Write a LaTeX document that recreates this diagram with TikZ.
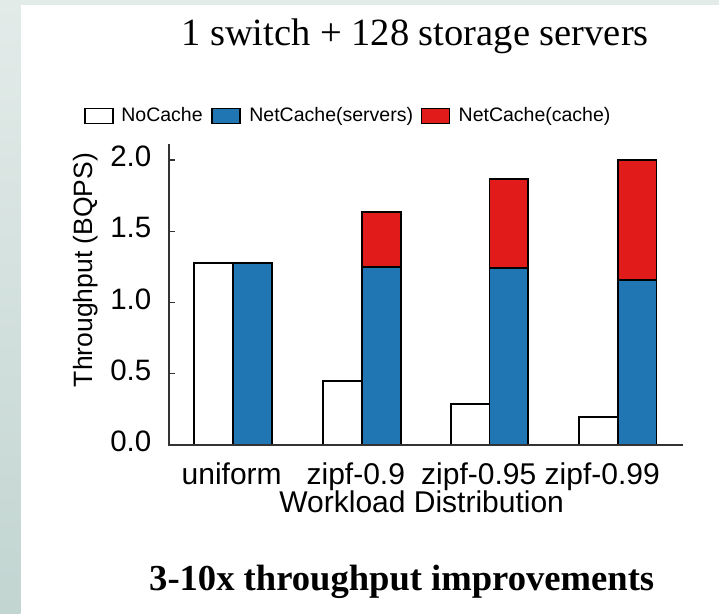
\documentclass[tikz,border=0pt]{standalone}
\usepackage{fontspec}
\setmainfont{Liberation Serif}
\newfontfamily\chartfont{Liberation Sans}
\definecolor{ncblue}{RGB}{31,118,178}
\definecolor{ncred}{RGB}{224,27,26}
\definecolor{slidegray}{RGB}{227,235,233}
\definecolor{slidegraydark}{RGB}{194,213,209}
\definecolor{axisgray}{RGB}{51,51,51}
\begin{document}
\begin{tikzpicture}[x=1pt,y=-1pt,
  barbox/.style={draw=black,line width=1.8pt},
  legbox/.style={draw=black,line width=1.6pt,minimum width=28pt,minimum height=15pt,inner sep=0pt},
  legtext/.style={font=\chartfont\fontsize{19.5}{23}\selectfont,inner sep=0pt,anchor=base west},
  ticklab/.style={font=\chartfont\fontsize{29.5}{34}\selectfont,inner sep=0pt,anchor=base east},
  catlab/.style={font=\chartfont\fontsize{30}{36}\selectfont,inner sep=0pt,anchor=base},
  axisline/.style={draw=axisgray,line width=1.3pt}]
\useasboundingbox (0,0) rectangle (719,613);
\fill[white] (0,0) rectangle (719,613);
% slide edge
\shade[top color=slidegray,bottom color=slidegraydark] (0,0) rectangle (20.7,613);
\fill[slidegray] (0,0) rectangle (719,4.7);
% title
\node[font=\fontsize{38.5}{44}\selectfont,inner sep=0pt,anchor=base] (title) at (415,45) {1 switch + 128 storage servers};
% legend
\node[legbox,fill=white] (lb1) at (99,115.8) {};
\node[legtext] (lt1) at (121.2,121.7) {NoCache};
\node[legbox,fill=ncblue] (lb2) at (225.8,115.8) {};
\node[legtext] (lt2) at (249.2,121.7) {NetCache(servers)};
\node[legbox,fill=ncred] (lb3) at (435.3,115.8) {};
\node[legtext] (lt3) at (458.5,121.7) {NetCache(cache)};
% bars
\foreach \x/\w/\b/\r in {194.3/1.28/1.28/1.28, 323.3/0.451/1.247/1.637, 450.7/0.286/1.24/1.864, 579/0.199/1.158/2.0}{
  \pgfmathsetmacro{\xa}{\x+38.7}
  \pgfmathsetmacro{\xb}{\x+77.4}
  \pgfmathsetmacro{\yw}{445-142.5*\w}
  \pgfmathsetmacro{\yb}{445-142.5*\b}
  \pgfmathsetmacro{\yr}{445-142.5*\r}
  \draw[barbox,fill=white] (\x,445) rectangle (\xa,\yw);
  \draw[barbox,fill=ncred] (\xa,\yb) rectangle (\xb,\yr);
  \draw[barbox,fill=ncblue] (\xa,445) rectangle (\xb,\yb);
}
% axes
\draw[axisline] (169,144) -- (169,445) -- (683,445);
\foreach \v/\lab/\nm in {0/0.0/ya, 0.5/0.5/yb, 1/1.0/yc, 1.5/1.5/yd, 2/2.0/ye}{
  \pgfmathsetmacro{\yt}{445-142.5*\v}
  \draw[axisline] (169,\yt) -- (175,\yt);
  \node[ticklab] (\nm) at (151.5,\yt+6.7) {\lab};
}
\node[font=\chartfont\fontsize{26.5}{30}\selectfont,inner sep=0pt,anchor=base,rotate=90] (ylab) at (92,270) {Throughput (BQPS)};
% categories
\node[catlab] (c1) at (231.7,484) {uniform};
\node[catlab] (c2) at (355.8,484) {zipf-0.9};
\node[catlab] (c3) at (478.7,484) {zipf-0.95};
\node[catlab] (c4) at (602.2,484) {zipf-0.99};
\node[catlab] (xlab) at (421.7,512.5) {Workload Distribution};
% caption
\node[font=\bfseries\fontsize{36.6}{42}\selectfont,inner sep=0pt,anchor=base] (caption) at (401.7,590) {3-10x throughput improvements};
\end{tikzpicture}
\end{document}
